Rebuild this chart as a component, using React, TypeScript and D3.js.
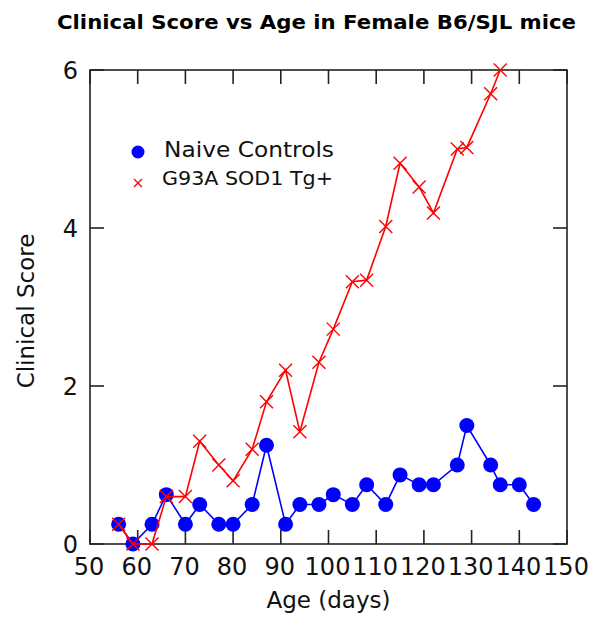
import React from "react";
import * as d3 from "d3";

const naiveAge = [56, 59, 63, 66, 70, 73, 77, 80, 84, 87, 91, 94, 98, 101, 105, 108, 112, 115, 119, 122, 127, 129, 134, 136, 140, 143];
const naiveScore = [0.25, 0, 0.25, 0.625, 0.25, 0.5, 0.25, 0.25, 0.5, 1.25, 0.25, 0.5, 0.5, 0.625, 0.5, 0.75, 0.5, 0.875, 0.75, 0.75, 1.0, 1.5, 1.0, 0.75, 0.75, 0.5];
const tgAge = [56, 59, 63, 66, 70, 73, 77, 80, 84, 87, 91, 94, 98, 101, 105, 108, 112, 115, 119, 122, 127, 129, 134, 136];
const tgScore = [0.25, 0, 0, 0.6, 0.6, 1.3, 1.0, 0.8, 1.2, 1.8, 2.2, 1.42, 2.3, 2.72, 3.32, 3.34, 4.02, 4.82, 4.52, 4.19, 5.0, 5.02, 5.7, 6.0];
const xTicks = [50, 60, 70, 80, 90, 100, 110, 120, 130, 140, 150];
const yTicks = [0, 2, 4, 6];
const legendLabels = ["Naive Controls", "G93A SOD1 Tg+"];
const titleText = "Clinical Score vs Age in Female B6/SJL mice";

const W = 595;
const H = 617;
const L = 90, R = 567, T = 70, B = 544;
const FONT = "'DejaVu Sans', sans-serif";

export default function App() {
  const x = d3.scaleLinear().domain([50, 150]).range([L, R]);
  const y = d3.scaleLinear().domain([0, 6]).range([B, T]);
  const naive = naiveAge.map((a, i) => [a, naiveScore[i]] as [number, number]);
  const tg = tgAge.map((a, i) => [a, tgScore[i]] as [number, number]);
  const line = d3.line<[number, number]>().x(d => x(d[0])).y(d => y(d[1]));
  const tick = 14;
  const xs = 6.5;
  return (
    <svg width={W} height={H} style={{ position: "absolute", left: 0, top: 0, background: "#fff" }}>
      <rect x={0} y={0} width={W} height={H} fill="#fff" />
      <text x={57} y={29} fontFamily={FONT} fontWeight="bold" fontSize={19} textLength={519} lengthAdjust="spacingAndGlyphs" fill="#000">{titleText}</text>
      {/* frame */}
      <rect x={L} y={T} width={R - L} height={B - T} fill="none" stroke="#222" strokeWidth={1.6} />
      {xTicks.map(t => (
        <g key={"x" + t}>
          <line x1={x(t)} x2={x(t)} y1={B} y2={B - tick} stroke="#222" strokeWidth={1.6} />
          <line x1={x(t)} x2={x(t)} y1={T} y2={T + tick} stroke="#222" strokeWidth={1.6} />
          <text x={x(t) - 1} y={575} textAnchor="middle" fontFamily={FONT} fontSize={24} fill="#111">{t}</text>
        </g>
      ))}
      {yTicks.map(t => (
        <g key={"y" + t}>
          <line x1={L} x2={L + tick} y1={y(t)} y2={y(t)} stroke="#222" strokeWidth={1.6} />
          <line x1={R} x2={R - tick} y1={y(t)} y2={y(t)} stroke="#222" strokeWidth={1.6} />
          <text x={78} y={y(t) + 9} textAnchor="end" fontFamily={FONT} fontSize={24} fill="#111">{t}</text>
        </g>
      ))}
      <text x={(L + R) / 2} y={608} textAnchor="middle" fontFamily={FONT} fontSize={23} fill="#111">Age (days)</text>
      <text transform={`translate(34, 311) rotate(-90)`} textAnchor="middle" fontFamily={FONT} fontSize={23} fill="#111">Clinical Score</text>

      {/* naive controls */}
      <path d={line(naive) || ""} fill="none" stroke="#0000ff" strokeWidth={1.6} />
      {naive.map((d, i) => (
        <circle key={"n" + i} cx={x(d[0])} cy={y(d[1])} r={7.5} fill="#0000ff" />
      ))}
      {/* G93A */}
      <path d={line(tg) || ""} fill="none" stroke="#ff0000" strokeWidth={1.6} />
      {tg.map((d, i) => (
        <g key={"t" + i} stroke="#ff0000" strokeWidth={1.4}>
          <line x1={x(d[0]) - xs} x2={x(d[0]) + xs} y1={y(d[1]) - xs} y2={y(d[1]) + xs} />
          <line x1={x(d[0]) - xs} x2={x(d[0]) + xs} y1={y(d[1]) + xs} y2={y(d[1]) - xs} />
        </g>
      ))}

      {/* legend */}
      <circle cx={138} cy={152} r={6.5} fill="#0000ff" />
      <text x={164} y={157} fontFamily={FONT} fontSize={22} textLength={170} lengthAdjust="spacingAndGlyphs" fill="#111">{legendLabels[0]}</text>
      <g stroke="#ff0000" strokeWidth={1.3}>
        <line x1={134} x2={142} y1={179} y2={187} />
        <line x1={134} x2={142} y1={187} y2={179} />
      </g>
      <text x={162} y={185} fontFamily={FONT} fontSize={20} textLength={171} lengthAdjust="spacingAndGlyphs" fill="#111">{legendLabels[1]}</text>
    </svg>
  );
}
